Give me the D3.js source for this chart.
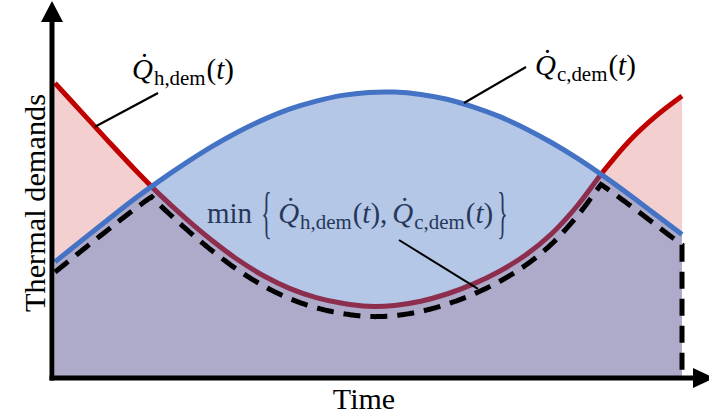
<!DOCTYPE html>
<html>
<head>
<meta charset="utf-8">
<script src="https://cdn.jsdelivr.net/npm/d3@7"></script>
<style>
  html, body { margin: 0; padding: 0; background: #fff; }
  svg { display: block; }
</style>
</head>
<body>
<svg id="chart" width="709" height="420"></svg>
<script>
// Hour of the day
const hours = [0, 1, 2, 3, 4, 5, 6, 7, 8, 9, 10, 11, 12, 13, 14, 15, 16, 17, 18, 19, 20, 21, 22, 23, 24];
// Heating demand over the day
const heatingDemand = [98.3, 88.8, 79.3, 70.0, 61.2, 53.2, 45.9, 39.4, 34.0, 29.8, 26.8, 24.9, 23.9,
                       24.2, 25.6, 28.0, 31.3, 35.5, 40.9, 48.0, 57.5, 69.0, 79.2, 87.3, 94.0];
// Cooling demand over the day
const coolingDemand = [38.7, 45.7, 52.6, 59.4, 65.7, 71.6, 77.1, 82.0, 86.2, 89.7, 92.3, 94.2, 95.2,
                       95.3, 94.5, 92.9, 90.4, 87.2, 83.2, 78.5, 73.2, 67.3, 61.0, 54.4, 47.8];
// Gap between the simultaneous demand curve and the dashed recoverable part
const recoveryMargin = 3.4;

const serif = "'Liberation Serif', 'DejaVu Serif', serif";
const svg = d3.select('#chart');

const x = d3.scaleLinear().domain([0, 24]).range([55, 682]);
const y = d3.scaleLinear().domain([0, 126]).range([378, 0]);

const heat = hours.map((h, i) => [h, heatingDemand[i]]);
const cool = hours.map((h, i) => [h, coolingDemand[i]]);

const curve = d3.curveCatmullRom.alpha(0.5);
const line = d3.line().x(d => x(d[0])).y(d => y(d[1])).curve(curve);
const area = d3.area().x(d => x(d[0])).y0(y(0)).y1(d => y(d[1])).curve(curve);

// Heating demand: fill, then line
svg.append('path').attr('d', area(heat)).attr('fill', 'rgba(192,0,0,0.19)');
const heatLine = svg.append('path').attr('d', line(heat))
  .attr('fill', 'none').attr('stroke', '#c00000').attr('stroke-width', 5);

// Cooling demand: translucent fill over the heating one, then line
svg.append('path').attr('d', area(cool)).attr('fill', 'rgba(68,114,196,0.4)');
const coolLine = svg.append('path').attr('d', line(cool))
  .attr('fill', 'none').attr('stroke', '#4472c4').attr('stroke-width', 5);

// Read a drawn curve back as y(px) at any x(px)
function sampler(node) {
  const L = node.getTotalLength();
  const pts = d3.range(0, 2001).map(i => node.getPointAtLength(L * i / 2000));
  const bis = d3.bisector(p => p.x).left;
  return px => {
    const i = bis(pts, px);
    if (i <= 0) return pts[0].y;
    if (i >= pts.length) return pts[pts.length - 1].y;
    const a = pts[i - 1], b = pts[i];
    const f = (px - a.x) / ((b.x - a.x) || 1);
    return a.y + f * (b.y - a.y);
  };
}
const heatAt = sampler(heatLine.node());
const coolAt = sampler(coolLine.node());
const valueAt = (fn, t) => y.invert(fn(x(t)));

// Simultaneous demand min{heating, cooling}, lowered by the margin, closed down to zero
const steps = d3.range(0, 24 + 1e-9, 0.05);
const recovered = steps.map(t => [t, Math.min(valueAt(heatAt, t), valueAt(coolAt, t)) - recoveryMargin]);
recovered.push([24, 0]);
svg.append('path')
  .attr('d', d3.line().x(d => x(d[0])).y(d => y(d[1]))(recovered))
  .attr('fill', 'none').attr('stroke', '#000').attr('stroke-width', 5)
  .attr('stroke-dasharray', '17 10');

// Axes with arrow heads
const ax = svg.append('g');
const x0 = x.range()[0] - 3, yb = y(0);
ax.append('line').attr('x1', x0).attr('x2', x0).attr('y1', yb + 2.5).attr('y2', 20)
  .attr('stroke', '#000').attr('stroke-width', 5);
ax.append('line').attr('x1', x0 - 2.5).attr('x2', 696).attr('y1', yb).attr('y2', yb)
  .attr('stroke', '#000').attr('stroke-width', 5);
ax.append('path').attr('d', `M${x0 - 11},22 L${x0},1 L${x0 + 11},22 Z`).attr('fill', '#000');
ax.append('path').attr('d', `M693,${yb - 10} L714,${yb} L693,${yb + 10} Z`).attr('fill', '#000');

// Axis titles
svg.append('text').attr('transform', `translate(45,203) rotate(-90)`)
  .attr('text-anchor', 'middle').attr('font-family', serif).attr('font-size', 30)
  .attr('textLength', 218).attr('lengthAdjust', 'spacingAndGlyphs').text('Thermal demands');
svg.append('text').attr('x', 364).attr('y', 409)
  .attr('text-anchor', 'middle').attr('font-family', serif).attr('font-size', 30).text('Time');

// Math labels: Q-dot with subscript and (t)
function mathLabel(x0, base, sub, size, color, tail) {
  const t = svg.append('text').attr('x', x0).attr('y', base)
    .attr('font-family', serif).attr('font-size', size).attr('fill', color);
  t.append('tspan').attr('font-style', 'italic').text('Q\u0307');
  t.append('tspan').attr('font-size', size * 0.72).attr('dy', size * 0.2).attr('dx', 1).text(sub);
  t.append('tspan').attr('dy', -size * 0.2).attr('dx', 1).text('(');
  t.append('tspan').attr('font-style', 'italic').text('t');
  t.append('tspan').text(')' + (tail || ''));
  return t;
}
function pointer(x1, y1, x2, y2, w) {
  svg.append('line').attr('x1', x1).attr('y1', y1).attr('x2', x2).attr('y2', y2)
    .attr('stroke', '#000').attr('stroke-width', w);
}

mathLabel(132, 79, 'h,dem', 29, '#000');
const tH = x.invert(95);
pointer(158, 93, x(tH), heatAt(x(tH)), 2.2);

mathLabel(535, 75, 'c,dem', 29, '#000');
const tC = x.invert(464);
pointer(526, 67, x(tC), coolAt(x(tC)) - 1, 2.2);

// min{ ... } label
const navy = '#27375a';
let cx = 207;
const minT = svg.append('text').attr('x', cx).attr('y', 223)
  .attr('font-family', serif).attr('font-size', 29).attr('fill', navy).text('min');
cx += minT.node().getComputedTextLength() + 9;
svg.append('text').attr('transform', `translate(${cx},232) scale(0.75,2)`)
  .attr('font-family', serif).attr('font-size', 29).attr('fill', navy).text('{');
cx += 17;
const l1 = mathLabel(cx, 223, 'h,dem', 29, navy, ',');
cx += l1.node().getComputedTextLength() + 7;
const l2 = mathLabel(cx, 223, 'c,dem', 29, navy);
cx += l2.node().getComputedTextLength() + 6;
svg.append('text').attr('transform', `translate(${cx},232) scale(0.75,2)`)
  .attr('font-family', serif).attr('font-size', 29).attr('fill', navy).text('}');
const tM = x.invert(478);
pointer(399, 240, x(tM), heatAt(x(tM)) + 7, 2);
</script>
</body>
</html>
